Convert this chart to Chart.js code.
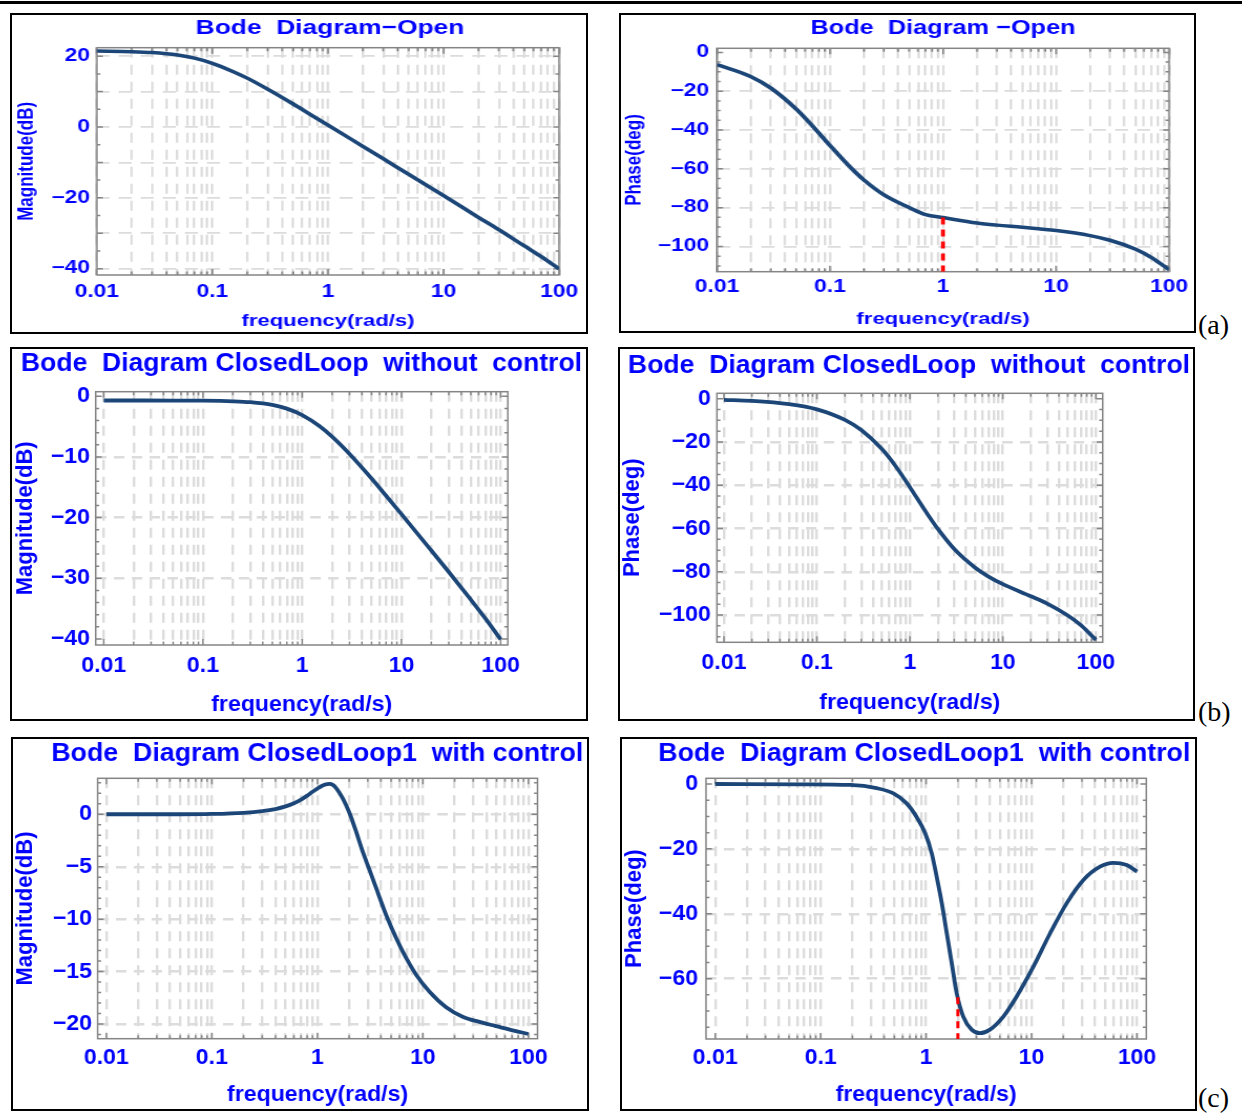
<!DOCTYPE html>
<html>
<head>
<meta charset="utf-8">
<script src="https://cdn.jsdelivr.net/npm/chart.js@4.4.1/dist/chart.umd.min.js"></script>
<style>
  body { margin: 0; background: #fff; width: 1242px; height: 1120px; position: relative; overflow: hidden; }
  .rule { position: absolute; left: 0; top: 1px; width: 1242px; height: 3px; background: #000; }
  .box { position: absolute; border: 2px solid #000; box-sizing: border-box; background: #fff; overflow: hidden; }
  .inner { position: absolute; left: 0; top: 0; transform-origin: 0 0; }
  .tag { position: absolute; font-family: "Liberation Serif", serif; font-size: 28px; line-height: 28px; color: #000; }
</style>
</head>
<body>
<div class="rule"></div>
<div class="tag" style="left:1198px;top:311px">(a)</div>
<div class="tag" style="left:1198px;top:698px">(b)</div>
<div class="tag" style="left:1198px;top:1084px">(c)</div>
<script>
const BLUE = '#0000ff';
const CURVE = '#1b4677';
const GRID = '#dcdcdc';
const FONT = '"Liberation Sans", Arial, Helvetica, sans-serif';

// x axis: decades and their labels
const decades = [0.01, 0.1, 1, 10, 100];
const decadeLabels = ['0.01', '0.1', '1', '10', '100'];

// (a) open loop
const freqOpen = [0.01, 0.02, 0.03, 0.05, 0.07, 0.1, 0.15, 0.2, 0.3, 0.5, 0.7, 1, 2, 3, 5, 10, 20, 30, 50, 70, 100];
const magOpen = [21.45, 21.29, 21.04, 20.33, 19.45, 18.0, 15.7, 13.8, 10.7, 6.5, 3.6, 0.55, -5.45, -8.96, -13.4, -19.4, -25.5, -29.0, -33.6, -36.6, -40.1];
const phaseOpen = [-6.3, -12.5, -18.4, -29.1, -37.9, -48.0, -59.0, -65.8, -73.4, -79.9, -83.6, -85.1, -87.9, -89.0, -90.1, -91.8, -94.4, -96.8, -101.3, -105.7, -112.0];
const openMarker = [1, -85.1];

// (b) closed loop without control
const freqClosed = [0.01, 0.02, 0.05, 0.1, 0.2, 0.3, 0.5, 0.7, 1, 1.5, 2, 3, 5, 7, 10, 20, 30, 50, 70, 100];
const magClosed = [-0.7, -0.7, -0.71, -0.73, -0.83, -0.98, -1.43, -2.04, -3.1, -4.94, -6.66, -9.52, -13.57, -16.4, -19.43, -25.43, -28.97, -33.53, -36.61, -40.08];
const phaseClosed = [-0.5, -1.0, -2.5, -4.9, -9.8, -14.5, -23.3, -31.1, -40.9, -52.5, -60.2, -69.5, -78.0, -82.2, -85.7, -91.3, -94.7, -100.2, -104.9, -111.5];

// (c) closed loop with control
const freqCtrlMag = [0.01, 0.05, 0.1, 0.2, 0.3, 0.4, 0.5, 0.6, 0.7, 0.8, 0.9, 1.0, 1.1, 1.2, 1.3, 1.4, 1.5, 1.6, 1.74, 2.02, 2.33, 2.69, 3.12, 3.61, 4.48, 5.58, 6.93, 8.63, 11.5, 16.6, 23.8, 34.3, 49.3, 70.8, 100];
const magCtrl = [0, 0, 0.03, 0.14, 0.3, 0.5, 0.75, 1.05, 1.4, 1.78, 2.15, 2.45, 2.7, 2.85, 2.9, 2.8, 2.52, 2.12, 1.52, 0.1, -1.66, -3.57, -5.31, -7.05, -9.6, -11.8, -13.7, -15.3, -16.9, -18.4, -19.3, -19.8, -20.2, -20.6, -20.95];
const freqCtrlPhase = [0.01, 0.064, 0.19, 0.34, 0.49, 0.65, 0.81, 0.98, 1.13, 1.26, 1.41, 1.57, 1.75, 1.95, 2.25, 2.7, 3.24, 4.03, 5.4, 7.22, 10.4, 15, 21.5, 31, 44.6, 59.6, 79.8, 100];
const phaseCtrl = [0, -0.1, -0.3, -1.3, -2.9, -5.9, -10.1, -15.2, -21.4, -28.6, -36.8, -46.0, -55.3, -64.5, -71.7, -75.7, -76.8, -75.7, -71.7, -65.5, -56.3, -46.0, -36.8, -29.6, -25.5, -24.3, -25.0, -27.0];
const ctrlMarker = [2.0, -65.7];

// y tick labels and horizontal grid lines
const magOpenTicks = [-40, -20, 0, 20];
const magOpenGrid = [-40, -30, -20, -10, 0, 10, 20];
const phaseOpenTicks = [-100, -80, -60, -40, -20, 0];
const magClosedTicks = [-40, -30, -20, -10, 0];
const phaseClosedTicks = [-100, -80, -60, -40, -20, 0];
const magCtrlTicks = [-20, -15, -10, -5, 0];
const phaseCtrlTicks = [-60, -40, -20, 0];

// 1..9 multiples of each decade, for the dashed vertical grid
const xGridVals = [];
decades.forEach((d, i) => {
  if (i === decades.length - 1) { xGridVals.push(d); return; }
  for (let m = 1; m <= 9; m++) xGridVals.push(Number((d * m).toPrecision(3)));
});

const isDecade = v => Math.abs(Math.log10(v) - Math.round(Math.log10(v))) < 1e-6;
const fmtY = v => v < 0 ? '\u2212' + (-v) : String(v);

const panels = [
  { box: [10, 13, 588, 334], frame: [96.8, 47.7, 564.5, 275], sx: 1.3,
    xr: [0.01, 100], yr: [-41.8, 22.4], freq: freqOpen, vals: magOpen,
    yLabels: magOpenTicks, hGrid: magOpenGrid, minor: 5,
    title: 'Bode  Diagram\u2212Open', tpos: [330, 28.3, 268.7], tsize: 21,
    yTitle: 'Magnitude(dB)', tick: 17.5, axis: 17, lw: 3.5, gw: 1.8,
    tickY: 292, tickRight: 90, yTitleX: 26.5, xTitleY: 321.7 },
  { box: [619, 13, 1196, 333], frame: [717, 48.3, 1172.5, 271.7], sx: 1.3,
    xr: [0.01, 100], yr: [-113, 2.1], freq: freqOpen, vals: phaseOpen, marker: openMarker,
    yLabels: phaseOpenTicks, hGrid: [-100, -80, -60, -40, -20], minor: 5,
    title: 'Bode  Diagram \u2212Open', tpos: [943, 28.3, 265], tsize: 21,
    yTitle: 'Phase(deg)', tick: 17.5, axis: 17, lw: 3.5, gw: 1.8,
    tickY: 287, tickRight: 709, yTitleX: 634, xTitleY: 319 },
  { box: [10, 347, 588, 721], frame: [95.7, 391.7, 507.8, 645], sx: 1.05,
    xr: [0.0083, 118], yr: [-41, 0.75], freq: freqClosed, vals: magClosed,
    yLabels: magClosedTicks, hGrid: [-30, -20, -10], minor: 2,
    title: 'Bode  Diagram ClosedLoop  without  control', tpos: [301.5, 364, 561], tsize: 26,
    yTitle: 'Magnitude(dB)', tick: 22, axis: 22, lw: 3.8, gw: 2.4,
    tickY: 665.7, tickRight: 90, yTitleX: 26, xTitleY: 705 },
  { box: [618, 347, 1195, 721], frame: [716.9, 393.3, 1102.7, 642.3], sx: 1.05,
    xr: [0.0084, 118.6], yr: [-112.6, 2.5], freq: freqClosed, vals: phaseClosed,
    yLabels: phaseClosedTicks, hGrid: [-100, -80, -60, -40, -20], minor: 5,
    title: 'Bode  Diagram ClosedLoop  without  control', tpos: [909, 366, 562], tsize: 26,
    yTitle: 'Phase(deg)', tick: 22, axis: 22, lw: 3.8, gw: 2.4,
    tickY: 663, tickRight: 710.8, yTitleX: 633, xTitleY: 703 },
  { box: [11, 737, 589, 1111], frame: [97.6, 778.3, 537.5, 1038.7], sx: 1.05,
    xr: [0.00826, 122], yr: [-21.4, 3.43], freq: freqCtrlMag, vals: magCtrl,
    yLabels: magCtrlTicks, hGrid: magCtrlTicks, minor: 1,
    title: 'Bode  Diagram ClosedLoop1  with control', tpos: [317.3, 754, 532], tsize: 25,
    yTitle: 'Magnitude(dB)', tick: 22, axis: 22, lw: 3.8, gw: 2.4,
    tickY: 1058, tickRight: 92, yTitleX: 26, xTitleY: 1095 },
  { box: [620, 737, 1197, 1111], frame: [706, 778.3, 1146.3, 1039], sx: 1.05,
    xr: [0.00818, 122.5], yr: [-78.6, 1.75], freq: freqCtrlPhase, vals: phaseCtrl, marker: ctrlMarker,
    yLabels: phaseCtrlTicks, hGrid: [-60, -40, -20], minor: 5,
    title: 'Bode  Diagram ClosedLoop1  with control', tpos: [924.3, 754.5, 532], tsize: 25,
    yTitle: 'Phase(deg)', tick: 22, axis: 22, lw: 3.8, gw: 2.4,
    tickY: 1057.7, tickRight: 698, yTitleX: 635, xTitleY: 1095 }
];

// gray frame with small inward ticks, like the original plots
const framePlugin = {
  id: 'frame',
  beforeDatasetsDraw(chart, args, o) {
    const { ctx, chartArea: a, scales: { x, y } } = chart;
    ctx.save();
    ctx.strokeStyle = '#858585';
    ctx.lineWidth = 1.5;
    ctx.strokeRect(a.left, a.top, a.right - a.left, a.bottom - a.top);
    ctx.beginPath();
    x.ticks.forEach(t => {
      const px = x.getPixelForValue(t.value);
      const len = isDecade(t.value) ? 6 : 3.5;
      ctx.moveTo(px, a.bottom); ctx.lineTo(px, a.bottom - len);
      ctx.moveTo(px, a.top); ctx.lineTo(px, a.top + len);
    });
    const start = Math.ceil(y.min / o.minor);
    const end = Math.floor(y.max / o.minor);
    for (let k = start; k <= end; k++) {
      const v = k * o.minor;
      const py = y.getPixelForValue(v);
      const len = (o.major.includes(v) ? 6 : 3.5) / o.sx;
      ctx.moveTo(a.left, py); ctx.lineTo(a.left + len, py);
      ctx.moveTo(a.right, py); ctx.lineTo(a.right - len, py);
    }
    ctx.stroke();
    ctx.restore();
  }
};

// panel title, fitted to the width it has in the figure
const titlePlugin = {
  id: 'panelTitle',
  afterDraw(chart, args, o) {
    const ctx = chart.ctx;
    ctx.save();
    ctx.font = 'bold ' + o.size + 'px ' + FONT;
    ctx.fillStyle = BLUE;
    ctx.textAlign = 'center';
    ctx.textBaseline = 'middle';
    const k = o.width / ctx.measureText(o.text).width;
    ctx.translate(o.x, o.y);
    ctx.scale(k, 1);
    ctx.fillText(o.text, 0, 0);
    ctx.restore();
  }
};

function makePanel(p) {
  const box = document.createElement('div');
  box.className = 'box';
  box.style.left = p.box[0] + 'px';
  box.style.top = p.box[1] + 'px';
  box.style.width = (p.box[2] - p.box[0]) + 'px';
  box.style.height = (p.box[3] - p.box[1]) + 'px';
  document.body.appendChild(box);

  const inL = p.box[0] + 2, inT = p.box[1] + 2;
  const inW = p.box[2] - p.box[0] - 4, inH = p.box[3] - p.box[1] - 4;
  const sx = p.sx;
  const cw = Math.round(inW / sx);
  const cx = px => (px - inL) / sx;
  const cy = py => py - inT;

  const wrap = document.createElement('div');
  wrap.className = 'inner';
  wrap.style.width = cw + 'px';
  wrap.style.height = inH + 'px';
  wrap.style.transform = 'scaleX(' + sx + ')';
  const canvas = document.createElement('canvas');
  canvas.width = cw;
  canvas.height = inH;
  wrap.appendChild(canvas);
  box.appendChild(wrap);

  const yVals = Array.from(new Set(p.yLabels.concat(p.hGrid))).sort((a, b) => a - b);
  const datasets = [];
  if (p.marker) {
    datasets.push({
      data: [{ x: p.marker[0], y: p.marker[1] }, { x: p.marker[0], y: p.yr[0] }],
      borderColor: '#ff0000', borderWidth: 3, borderDash: [7, 5], pointRadius: 0
    });
  }
  datasets.push({
    data: p.freq.map((f, i) => ({ x: f, y: p.vals[i] })),
    borderColor: CURVE, borderWidth: p.lw, pointRadius: 0,
    cubicInterpolationMode: 'monotone'
  });

  const tickFont = { family: FONT, size: p.tick, weight: 'bold', lineHeight: 1.2 };
  const axisFont = { family: FONT, size: p.axis, weight: 'bold', lineHeight: 1 };

  new Chart(canvas, {
    type: 'line',
    data: { datasets },
    options: {
      responsive: false,
      animation: false,
      events: [],
      layout: { padding: { top: cy(p.frame[1]), right: cw - cx(p.frame[2]), left: 0, bottom: 0 } },
      plugins: {
        legend: { display: false },
        tooltip: { enabled: false },
        frame: { minor: p.minor, major: p.yLabels.concat(p.hGrid), sx: sx },
        panelTitle: { text: p.title, size: p.tsize, x: cx(p.tpos[0]), y: cy(p.tpos[1]), width: p.tpos[2] / sx }
      },
      scales: {
        x: {
          type: 'logarithmic',
          min: p.xr[0], max: p.xr[1],
          afterFit: s => { s.height = inH - cy(p.frame[3]); },
          afterBuildTicks: s => { s.ticks = xGridVals.map(v => ({ value: v })); },
          ticks: {
            autoSkip: false, maxRotation: 0, minRotation: 0,
            color: BLUE, font: tickFont,
            padding: p.tickY - p.frame[3] - p.tick * 0.6,
            callback: v => {
              const i = decades.findIndex(d => Math.abs(d - v) < d * 1e-6);
              return i >= 0 ? decadeLabels[i] : '';
            }
          },
          grid: { drawTicks: false, color: GRID, lineWidth: p.gw },
          border: { display: false, dash: [10, 7] },
          title: {
            display: true, text: 'frequency(rad/s)', color: BLUE, font: axisFont,
            padding: { top: 0, bottom: inH - cy(p.xTitleY) - p.axis / 2 }
          }
        },
        y: {
          min: p.yr[0], max: p.yr[1],
          afterFit: s => { s.width = cx(p.frame[0]); },
          afterBuildTicks: s => { s.ticks = yVals.map(v => ({ value: v })); },
          ticks: {
            autoSkip: false, color: BLUE, font: tickFont,
            padding: (p.frame[0] - p.tickRight) / sx,
            callback: v => p.yLabels.includes(v) ? fmtY(v) : ''
          },
          grid: {
            drawTicks: false, lineWidth: p.gw,
            color: c => (c.tick && p.hGrid.includes(c.tick.value)) ? GRID : 'rgba(0,0,0,0)'
          },
          border: { display: false, dash: [10, 7] },
          title: {
            display: true, text: p.yTitle, color: BLUE, font: axisFont,
            padding: { top: cx(p.yTitleX) - p.axis / 2, bottom: 0 }
          }
        }
      }
    },
    plugins: [framePlugin, titlePlugin]
  });
}

panels.forEach(makePanel);
</script>
</body>
</html>
